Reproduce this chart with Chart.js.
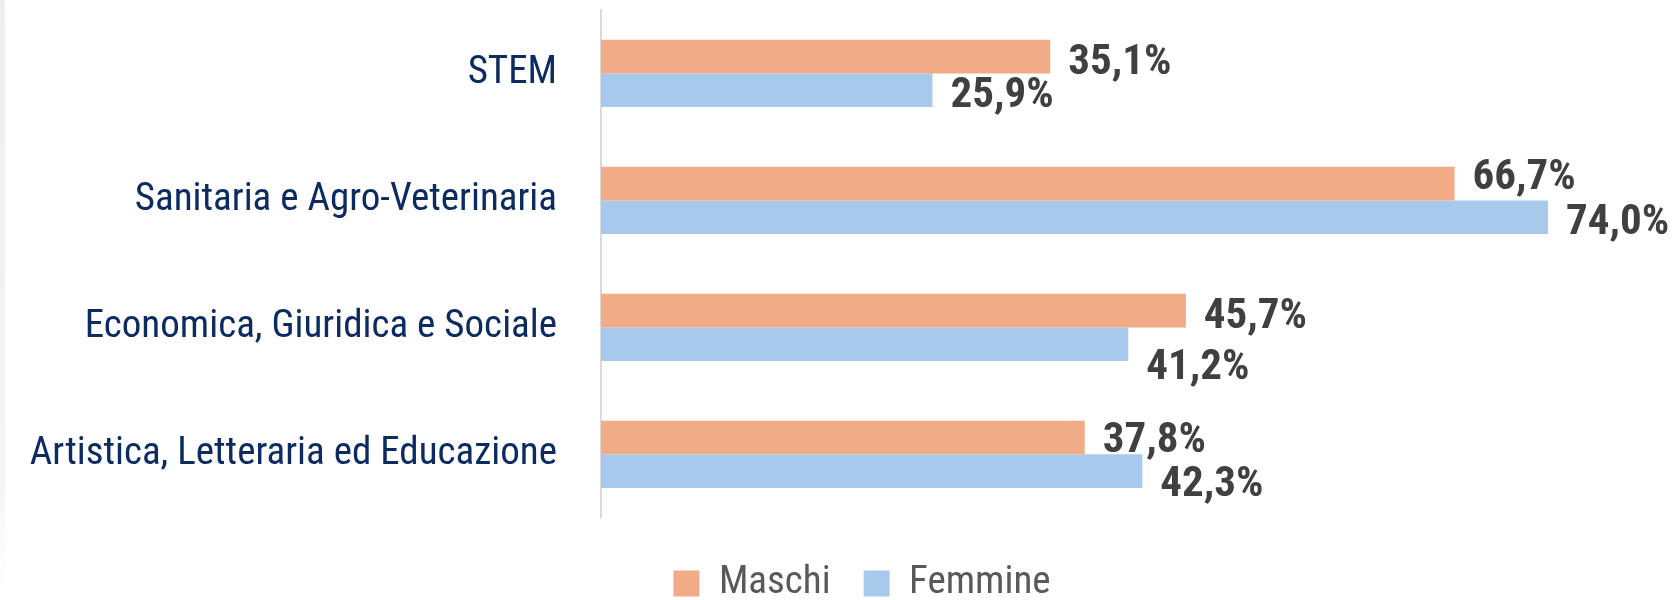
<!DOCTYPE html>
<html>
<head>
<meta charset="utf-8">
<script src="https://cdn.jsdelivr.net/npm/chart.js@4.4.1/dist/chart.umd.min.js"></script>
<style>
  html, body { margin: 0; padding: 0; background: #fff; }
  #wrap { position: relative; width: 1676px; height: 600px; }
  /* faint grey strip along the left edge of the original slide */
  #wrap::before { content: ""; position: absolute; left: 0; top: 0; width: 5px; height: 590px;
                  background: linear-gradient(#eceef4, #f3f4f8 80%, #fff); }
</style>
</head>
<body>
<div id="wrap"><canvas id="chart" width="1676" height="600"></canvas></div>
<script>
const categories = [
    "STEM",
    "Sanitaria e Agro-Veterinaria",
    "Economica, Giuridica e Sociale",
    "Artistica, Letteraria ed Educazione",
];
const maschi = [35.1, 66.7, 45.7, 37.8];
const femmine = [25.9, 74.0, 41.2, 42.3];
const seriesNames = ["Maschi", "Femmine"];

// Vertical nudges (px) of the value labels, as placed in the original to avoid overlaps.
const maschiLabelDy = [2, -10, 2, -1];
const femmineLabelDy = [2, 2, 20, 10];

const FONT = "'Roboto Condensed', Roboto, sans-serif";

const fmt = (v) => v.toFixed(1).replace(".", ",") + "%";

// Value labels drawn right of each bar.
const valueLabels = {
    id: "valueLabels",
    afterDatasetsDraw(chart) {
        const ctx = chart.ctx;
        const nudges = [maschiLabelDy, femmineLabelDy];
        ctx.save();
        ctx.font = `bold 43px ${FONT}`;
        ctx.fillStyle = "#404040";
        ctx.textAlign = "left";
        ctx.textBaseline = "alphabetic";
        chart.data.datasets.forEach((ds, di) => {
            chart.getDatasetMeta(di).data.forEach((bar, i) => {
                ctx.fillText(fmt(ds.data[i]), bar.x + 18, bar.y + 15 + nudges[di][i]);
            });
        });
        ctx.restore();
    },
};

// The layout padding on the left only serves to centre the legend; let the
// long category labels use that space instead of being clipped by it.
const unclipLabels = {
    id: "unclipLabels",
    afterLayout(chart) {
        chart.scales.y.left = 0;
    },
};

new Chart(document.getElementById("chart"), {
    type: "bar",
    data: {
        labels: categories,
        datasets: [
            { label: seriesNames[0], data: maschi, backgroundColor: "#F1AB86" },
            { label: seriesNames[1], data: femmine, backgroundColor: "#A7CAEC" },
        ],
    },
    options: {
        indexAxis: "y",
        responsive: false,
        animation: false,
        layout: { padding: { top: 10, left: 48, right: 0, bottom: -13 } },
        datasets: { bar: { categoryPercentage: 0.53, barPercentage: 1 } },
        scales: {
            x: { min: 0, max: 84, display: false },
            y: {
                grid: { display: false, drawTicks: false },
                border: { display: true, color: "#d9d9d9", width: 2 },
                ticks: { padding: 44, color: "#0c2b62", font: { family: FONT, size: 39 } },
                afterFit: (scale) => {
                    scale.width = 553;
                    scale.paddingTop = 0;
                    scale.paddingBottom = 0;
                },
            },
        },
        plugins: {
            legend: {
                position: "bottom",
                title: { display: true, text: "", padding: { top: 12, bottom: 0 }, font: { size: 1 } },
                labels: {
                    boxWidth: 26, boxHeight: 26, padding: 33,
                    color: "#595959", font: { family: FONT, size: 39 },
                },
            },
            tooltip: { enabled: false },
        },
    },
    plugins: [valueLabels, unclipLabels],
});
</script>
</body>
</html>
